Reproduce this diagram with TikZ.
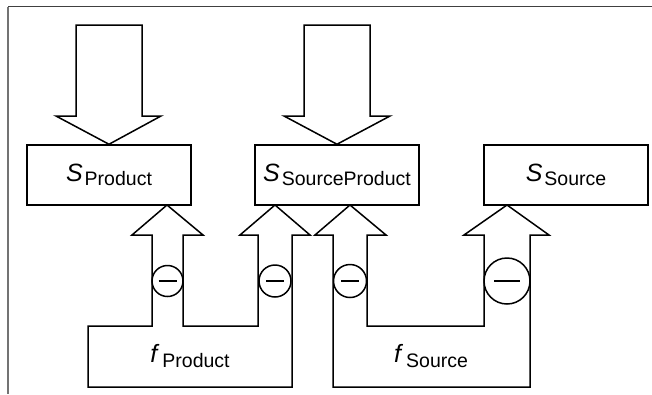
\documentclass[tikz,border=0pt]{standalone}
\usepackage{fontspec}
\setmainfont{Liberation Sans}
\newcommand{\varS}[1]{{\fontsize{25}{27}\selectfont\textit{S}}\kern2pt\raisebox{-4pt}{\fontsize{19.5}{21}\selectfont #1}}
\newcommand{\varF}[1]{{\fontsize{25}{27}\selectfont\textit{f}}\kern3pt\raisebox{-5pt}{\fontsize{19.5}{21}\selectfont #1}}
\begin{document}
\begin{tikzpicture}[x=1pt,y=-1pt,line width=1.5pt,line join=miter]
	\useasboundingbox (0,0) rectangle (652,394);
	\tikzstyle{block}=[draw,minimum width=164pt,minimum height=60pt,inner sep=0pt]
	\tikzstyle{blockarrow}=[draw,fill=white]
	\tikzstyle{sign}=[draw,circle,fill=white,inner sep=0pt]
	% frame
	\draw[black!75,line width=1.5pt] (652,6.5) -- (8,6.5);
	\draw[black!55,line width=1.5pt] (8,6.5) -- (8,394);
	% state boxes
	\path (109,175) node[block] (sp)  {\varS{Product}};
	\path (337,175) node[block] (ssp) {\varS{SourceProduct}};
	\path (566,175) node[block] (ss)  {\varS{Source}};
	% inputs from above
	\draw[blockarrow] (76,25) -- (142,25) -- (142,116) -- (161,116) -- (sp.north) -- (56,116) -- (76,116) -- cycle;
	\draw[blockarrow] (304,25) -- (370,25) -- (370,116) -- (390,116) -- (ssp.north) -- (284,116) -- (304,116) -- cycle;
	% feedback f_Product
	\draw[blockarrow] (152,235) -- (132,235) -- (167,205) -- (203,235) -- (183,235) -- (183,326) -- (258,326) -- (258,235)
		-- (240,235) -- (275,205) -- (310,235) -- (292,235) -- (292,387) -- (88,387) -- (88,326) -- (152,326) -- cycle;
	% feedback f_Source
	\draw[blockarrow] (333,235) -- (315,235) -- (350,205) -- (386,235) -- (367,235) -- (367,326) -- (484,326) -- (484,235)
		-- (464,235) -- (507,205) -- (549,235) -- (530,235) -- (530,387) -- (333,387) -- cycle;
	\path (190,356) node (fp) {\varF{Product}};
	\path (431,356) node (fs) {\varF{Source}};
	% negative signs
	\path (167.5,281) node[sign,minimum size=31pt] (m1) {};
	\path (275,281) node[sign,minimum size=32pt] (m2) {};
	\path (350,281) node[sign,minimum size=33pt] (m3) {};
	\path (507,281) node[sign,minimum size=46pt] (m4) {};
	\foreach \m/\w in {m1/9,m2/9,m3/9,m4/13}
		\draw[line width=1.2pt] ([xshift=-\w pt]\m.center) -- ([xshift=\w pt]\m.center);
\end{tikzpicture}
\end{document}
